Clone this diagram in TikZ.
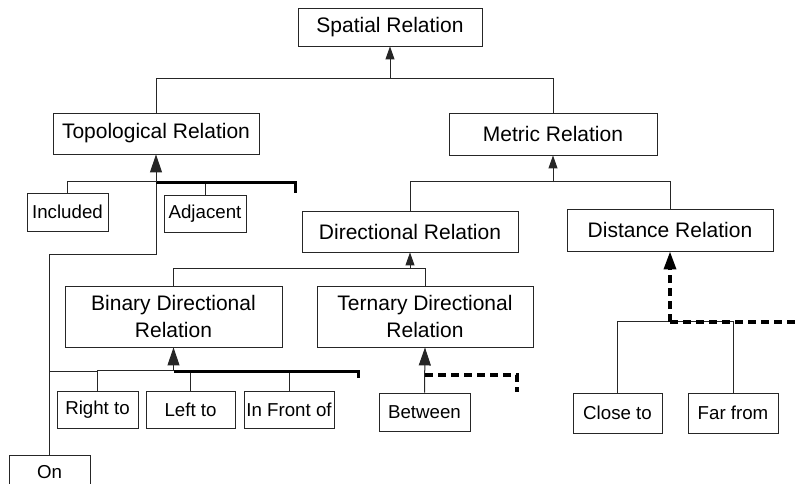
\documentclass[tikz,border=0pt]{standalone}
\usepackage{fontspec}
\setmainfont{Liberation Sans}
\usetikzlibrary{arrows.meta}
\begin{document}
\begin{tikzpicture}[x=1pt,y=-1pt,
  box/.style={draw=black!85, line width=0.9pt, rectangle, inner sep=0pt, align=center,
    font=\fontsize{21}{27}\selectfont},
  leaf/.style={box, font=\fontsize{18.7}{22}\selectfont},
  conn/.style={draw=black!85, line width=1pt},
  heavy/.style={draw=black, line width=3pt, line cap=butt},
  dashy/.style={draw=black, line width=3.5pt, dash pattern=on 8pt off 5pt},
  bigarrow/.style={-{Triangle[length=18pt,width=12pt]}},
  smallarrow/.style={-{Triangle[length=13pt,width=9pt]}}]
\useasboundingbox (0,0) rectangle (795,484);
% nodes
\node[box, minimum width=184pt, minimum height=38pt] (spatial) at (390,27) {Spatial Relation};
\node[box, minimum width=206pt, minimum height=41pt] (topo) at (156,133.5) {Topological Relation};
\node[box, minimum width=208pt, minimum height=42pt] (metric) at (553,134) {Metric Relation};
\node[leaf, minimum width=81pt, minimum height=38pt] (included) at (67.5,212) {Included};
\node[leaf, minimum width=82pt, minimum height=37pt] (adjacent) at (205,213.5) {Adjacent};
\node[box, minimum width=216pt, minimum height=41pt] (dir) at (410,231.5) {Directional Relation};
\node[box, minimum width=206pt, minimum height=42pt] (dist) at (670,230) {Distance Relation};
\node[box, minimum width=217pt, minimum height=61pt] (binary) at (173.5,316.5) {Binary Directional\\Relation};
\node[box, minimum width=216pt, minimum height=61pt] (ternary) at (425,316.5) {Ternary Directional\\Relation};
\node[leaf, minimum width=81pt, minimum height=37pt] (rightto) at (97.5,409.5) {Right to};
\node[leaf, minimum width=89pt, minimum height=37pt] (leftto) at (190.5,409.5) {Left to};
\node[leaf, minimum width=90pt, minimum height=37pt] (infront) at (289,409.5) {In Front of};
\node[leaf, minimum width=91pt, minimum height=38pt] (between) at (424.5,412) {Between};
\node[leaf, minimum width=89pt, minimum height=40pt] (closeto) at (617.5,413) {Close to};
\node[leaf, minimum width=90pt, minimum height=40pt] (farfrom) at (733,413) {Far from};
\node[leaf, minimum width=81pt, minimum height=34pt] (on) at (49.5,472) {On};
% junction coordinates
\coordinate (sj) at (390,79);
\coordinate (tj) at (156,182);
\coordinate (tend) at (295,193);
\coordinate (tcorner) at (295,182);
\coordinate (onbend) at (156,254);
\coordinate (mj) at (553,182);
\coordinate (dj) at (410,269);
\coordinate (bj) at (173.5,371);
\coordinate (bl) at (50,371);
\coordinate (bcorner) at (358,371);
\coordinate (bend) at (358,378);
\coordinate (tdj) at (425,375);
\coordinate (tdcorner) at (517,375);
\coordinate (tdend) at (517,392);
\coordinate (xj) at (670,322);
\coordinate (xend) at (795,322);
% spatial
\draw[conn] (topo.north) -- ++(0,-34) -| (metric.north);
\draw[conn, smallarrow] (sj) -- (spatial.south);
% topological
\draw[conn] (included.north) -- ++(0,-11) -| (adjacent.north);
\draw[conn] (tj) -- (onbend) -| (on.north);
\draw[heavy] (tj) -- (tcorner) -- (tend);
\draw[conn, bigarrow] (tj) -- (topo.south);
% metric
\draw[conn] (dir.north) -- ++(0,-29) -| (dist.north);
\draw[conn, smallarrow] (mj) -- (metric.south);
% directional
\draw[conn] (binary.north) -- ++(0,-17) -| (ternary.north);
\draw[conn, smallarrow] (dj) -- (dir.south);
% binary
\draw[conn] (rightto.north) -- ++(0,-20) -| (infront.north);
\draw[conn] (leftto.north) -- ++(0,-20);
\draw[conn] (bl) -- (rightto.north |- bl);
\draw[heavy] (bj) -- (bcorner) -- (bend);
\draw[conn, bigarrow] (bj) -- (binary.south);
% ternary
\draw[conn, bigarrow] (between.north) -- (ternary.south);
\draw[dashy] (tdj) -- (tdcorner) -- (tdend);
% distance
\draw[conn] (closeto.north) -- ++(0,-71) -| (farfrom.north);
\draw[dashy] (xj) -- (xend);
\draw[dashy, bigarrow] (xj) -- (dist.south);
\end{tikzpicture}
\end{document}
